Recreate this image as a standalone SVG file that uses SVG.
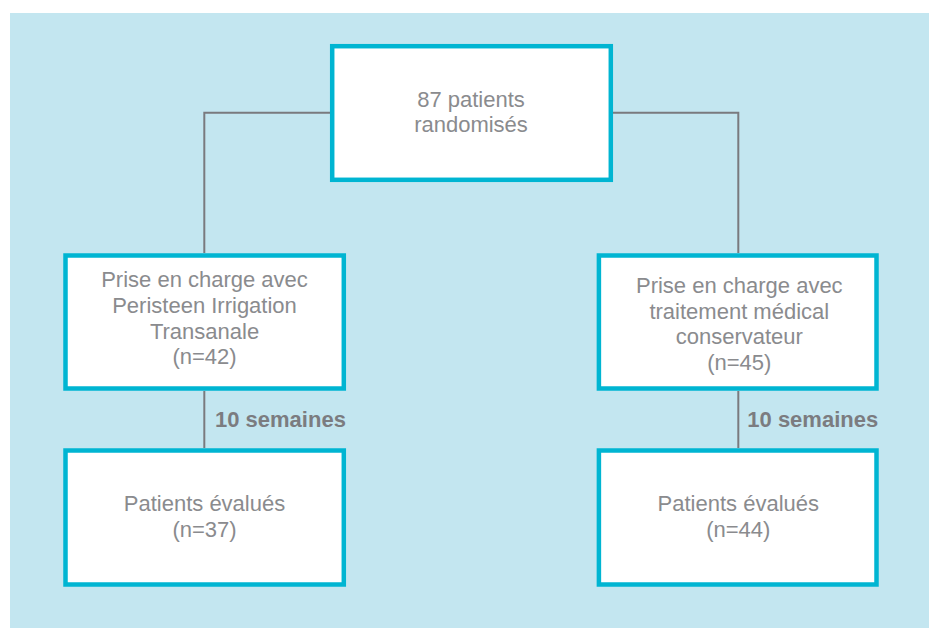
<svg xmlns="http://www.w3.org/2000/svg" width="929" height="628" viewBox="0 0 929 628">
<style>
.box{fill:#ffffff;stroke:#00b5d2;stroke-width:4.5}
.t{font-family:"Liberation Sans",Arial,sans-serif;font-size:22px;fill:#8a8b8e;text-anchor:middle}
.b{font-family:"Liberation Sans",Arial,sans-serif;font-size:22px;font-weight:bold;fill:#7b7c80}
.c{fill:none;stroke:#7a7a7e;stroke-width:2}
</style>
<rect x="10" y="13" width="919" height="615" fill="#c3e6f0"/>
<g id="connectors">
<path class="c" d="M330 112.7 H204.3 V253"/>
<path class="c" d="M613 112.7 H738.3 V253"/>
<path class="c" d="M204.3 391 V448"/>
<path class="c" d="M738.3 391 V448"/>
</g>
<g id="top">
<rect class="box" x="332.2" y="46.2" width="278.6" height="133.6"/>
<text class="t" x="471" y="107">87 patients</text>
<text class="t" x="471" y="132">randomisés</text>
</g>
<g id="left-mid">
<rect class="box" x="65.5" y="255.5" width="278.3" height="133"/>
<text class="t" x="204.5" y="286.7">Prise en charge avec</text>
<text class="t" x="204.5" y="312.6">Peristeen Irrigation</text>
<text class="t" x="204.5" y="338.5">Transanale</text>
<text class="t" x="204.5" y="364.3">(n=42)</text>
</g>
<g id="right-mid">
<rect class="box" x="598.9" y="255.5" width="277.6" height="133"/>
<text class="t" x="739.3" y="293.3">Prise en charge avec</text>
<text class="t" x="739.3" y="318.8">traitement médical</text>
<text class="t" x="739.3" y="344.3">conservateur</text>
<text class="t" x="739.3" y="369.8">(n=45)</text>
</g>
<g id="label-left"><text class="b" x="215" y="427.3">10 semaines</text></g>
<g id="label-right"><text class="b" x="747.3" y="427.3">10 semaines</text></g>
<g id="left-bottom">
<rect class="box" x="65.5" y="450.5" width="278.3" height="134"/>
<text class="t" x="204.5" y="511">Patients évalués</text>
<text class="t" x="204.5" y="537.3">(n=37)</text>
</g>
<g id="right-bottom">
<rect class="box" x="598.9" y="450.5" width="277.6" height="134"/>
<text class="t" x="738.3" y="511">Patients évalués</text>
<text class="t" x="738.3" y="537.3">(n=44)</text>
</g>
</svg>
